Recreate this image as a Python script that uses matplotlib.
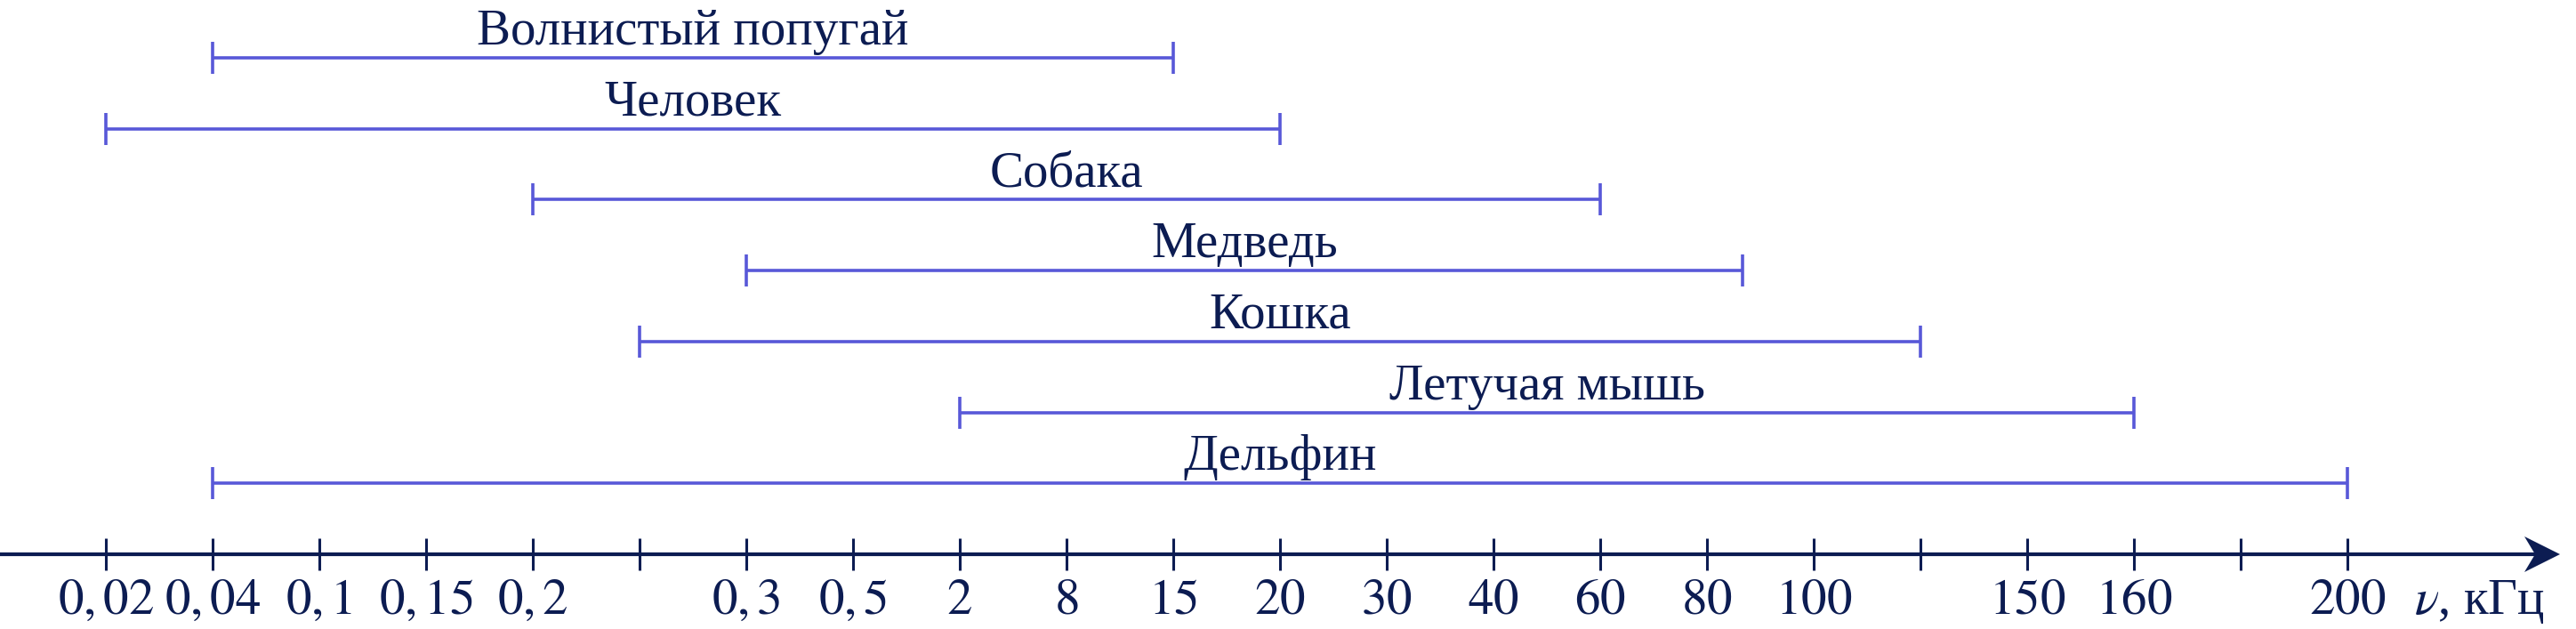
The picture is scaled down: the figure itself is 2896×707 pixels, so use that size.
import numpy as np
import matplotlib
matplotlib.use('Agg')
import matplotlib.pyplot as plt
from matplotlib.patches import Polygon

plt.rcParams['font.family'] = ['Liberation Serif', 'DejaVu Serif']
plt.rcParams['mathtext.fontset'] = 'stix'

# Данные: порядковая шкала частот (кГц), подписи делений
tick_labels = ['0,02', '0,04', '0,1', '0,15', '0,2', '', '0,3', '0,5', '2', '8',
               '15', '20', '30', '40', '60', '80', '100', '', '150', '160', '', '200']
animals = ['Волнистый попугай', 'Человек', 'Собака', 'Медведь', 'Кошка',
           'Летучая мышь', 'Дельфин']
# границы диапазонов слышимости в номерах делений шкалы
range_start = [1, 0, 4, 6, 5, 8, 1]
range_end = [10, 11, 14, 15.33, 17, 19, 21]

bar_color = '#5858d8'
axis_color = '#0c1c52'
fs = 41

W, H = 2896, 707
px_x, px_y = 120, 79.7          # пикселей на единицу по x и y
x0, y0 = 119, 623               # положение первого деления и оси

fig = plt.figure(figsize=(W / 100, H / 100), dpi=100)
ax = fig.add_axes([0, 0, 1, 1])
ax.set_xlim(-x0 / px_x, (W - x0) / px_x)
ax.set_ylim(-(H - y0) / px_y, y0 / px_y)
ax.axis('off')

# ось со стрелкой
tip = (2878 - x0) / px_x
back = (2838 - x0) / px_x
notch = (2850 - x0) / px_x
hw = 20 / px_y
ax.plot([-x0 / px_x, notch], [0, 0], color=axis_color, lw=3, solid_capstyle='butt')
ax.add_patch(Polygon([[tip, 0], [back, hw], [notch, 0], [back, -hw]],
                     closed=True, color=axis_color, lw=0))

ticks = np.arange(len(tick_labels))
ax.plot(ticks, np.zeros_like(ticks), ls='none', marker='|', ms=26, mew=2.2,
        color=axis_color)
for t, lab in zip(ticks, tick_labels):
    if lab:
        ax.text(t, -67 / px_y, '$' + lab + '$', ha='center', va='baseline',
                fontsize=fs, color=axis_color)
ax.text((2714 - x0) / px_x, -67 / px_y, r'$\nu$, кГц', ha='left', va='baseline',
        fontsize=fs, color=axis_color)

# диапазоны
n = len(animals)
for i, (name, s, e) in enumerate(zip(animals, range_start, range_end)):
    y = n - i
    ax.plot([s, e], [y, y], color=bar_color, lw=2.6, marker='|', ms=26, mew=2.6,
            solid_capstyle='butt')
    ax.text((s + e) / 2, y + 15 / px_y, name, ha='center', va='baseline',
            fontsize=fs, color=axis_color)

fig.savefig('out.png', dpi=100)
